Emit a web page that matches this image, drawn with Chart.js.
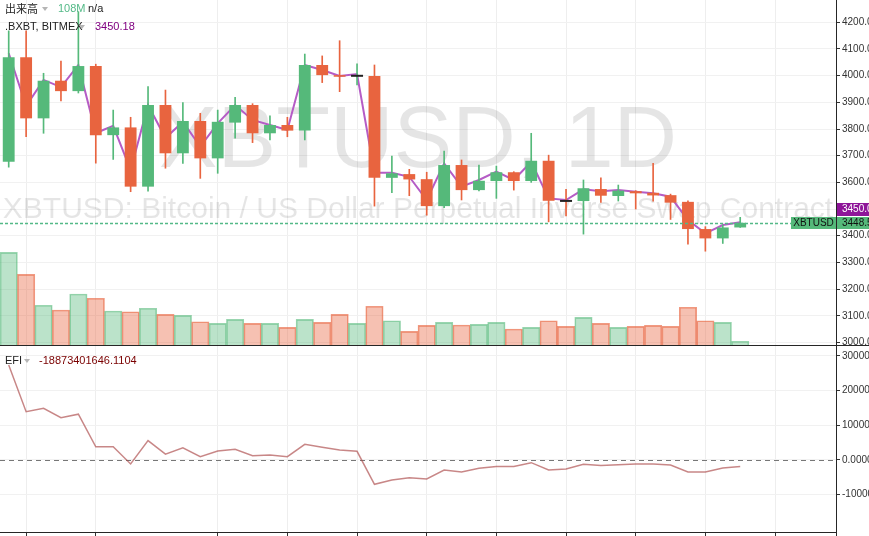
<!DOCTYPE html>
<html>
<head>
<meta charset="utf-8">
<script src="https://cdn.jsdelivr.net/npm/chart.js@4.4.0/dist/chart.umd.min.js"></script>
<style>
body{margin:0;background:#fff;width:869px;height:536px;overflow:hidden;position:relative;font-family:"Liberation Sans",Arial,sans-serif}
canvas{position:absolute;left:0}
#top{top:0}
#bot{top:346px}
.sep{position:absolute;background:#262626}
.lg{position:absolute;font-size:11px;line-height:13px;color:#222;white-space:nowrap}
.tri{position:absolute;width:0;height:0;border-left:3px solid transparent;border-right:3px solid transparent;border-top:4px solid #b5b5b5}
</style>
</head>
<body>
<canvas id="top" width="869" height="345"></canvas>
<canvas id="bot" width="869" height="190"></canvas>
<div class="sep" style="left:0;top:345px;width:869px;height:1px"></div>
<div class="sep" style="left:836px;top:0;width:1px;height:536px"></div>
<div class="sep" style="left:0;top:532px;width:837px;height:1px"></div>

<div class="lg" style="left:5px;top:2px;font-family:'Noto Sans CJK JP',sans-serif;font-size:11px">出来高</div>
<div class="tri" style="left:42px;top:7px"></div>
<div class="lg" style="left:58px;top:2px;color:#53b987">108M</div>
<div class="lg" style="left:88px;top:2px">n/a</div>
<div class="lg" style="left:5px;top:20px">.BXBT, BITMEX</div>
<div class="tri" style="left:79px;top:25px"></div>
<div class="lg" style="left:95px;top:20px;color:#800080">3450.18</div>
<div class="lg" style="left:5px;top:354px">EFI</div>
<div class="tri" style="left:24px;top:359px"></div>
<div class="lg" style="left:39px;top:354px;color:#7a0000">-18873401646.1104</div>

<script>
// daily candles XBTUSD (BitMEX), 20 Dec 2018 .. 31 Jan 2019, plus empty days on the right
var dates = ['12/20','12/21','12/22','12/23','12/24','12/25','12/26','12/27','12/28','12/29','12/30','12/31',
    '1/1','1/2','1/3','1/4','1/5','1/6','1/7','1/8','1/9','1/10','1/11','1/12','1/13','1/14','1/15','1/16',
    '1/17','1/18','1/19','1/20','1/21','1/22','1/23','1/24','1/25','1/26','1/27','1/28','1/29','1/30','1/31',
    '2/1','2/2','2/3','2/4','2/5'];
var gridDays = ['12/21','12/25','1/1','1/5','1/9','1/13','1/17','1/21','1/25','1/29','2/2'];

var open  = [3677,4069,3840,3981,3942,4036,3777,3806,3584,3890,3709,3830,3690,3824,3890,3784,3815,3794,4040,4002,3999,
             3999,3617,3631,3612,3511,3665,3571,3605,3638,3605,3681,3531,3530,3575,3549,3567,3561,3552,3527,3425,3390,3431];
var high  = [4168,4168,4009,4055,4240,4043,3871,3844,3959,3946,3899,3859,3871,3919,3895,3849,3844,4081,4074,4131,4044,
             4040,3699,3649,3638,3717,3684,3665,3661,3640,3784,3702,3574,3609,3617,3590,3569,3671,3556,3531,3434,3440,3469];
var low   = [3657,3771,3784,3905,3935,3672,3686,3565,3567,3653,3671,3615,3634,3766,3749,3759,3771,3759,3974,3940,3965,
             3511,3561,3550,3477,3505,3534,3568,3540,3571,3600,3452,3474,3406,3525,3530,3500,3530,3461,3368,3342,3371,3431];
var close = [4069,3840,3981,3942,4036,3777,3806,3584,3890,3709,3830,3690,3827,3890,3784,3815,3794,4040,4002,3996,3999.5,
             3617,3634,3611,3511,3665,3571,3606,3638,3605,3681,3531,3530.5,3578,3550,3569,3559,3551,3524,3425,3390,3431,3448.5];
// .BXBT index (compare line)
var bxbt  = [4084,3886,3984,3957,4040,3785,3812,3646,3890,3766,3827,3734,3821,3890,3834,3815,3796,4040,4021,3999,4006,
             3636,3636,3621,3534,3671,3584,3609,3640,3609,3677,3540,3534,3574,3567,3571,3565,3559,3546,3459,3409,3440,3450.18];
var bxbtAxisValue = 3450.0;
// volume, millions of contracts
var volume = [2687,2049,1151,1014,1478,1354,986,965,1064,890,861,675,629,745,629,629,513,745,658,890,629,
              1122,704,397,571,658,580,600,658,464,513,704,542,803,629,513,542,571,542,1093,704,658,108];
// Elder's force index
var efi = [274e9,139e9,149e9,122e9,132e9,38e9,38e9,-11.5e9,56e9,17e9,35e9,9.5e9,26e9,31e9,12.5e9,14.4e9,9.5e9,45e9,36.5e9,29e9,25e9,
           -70e9,-57.6e9,-51e9,-54.8e9,-29e9,-34.6e9,-24e9,-19e9,-19e9,-7.7e9,-29e9,-26e9,-12.5e9,-16e9,-13.5e9,-11.5e9,-11.5e9,-14.4e9,-34.6e9,-34.6e9,-23e9,-18873401646.1104];

var priceTicks = [3000,3100,3200,3300,3400,3500,3600,3700,3800,3900,4000,4100,4200];
var efiTicks = [-1e11, 0, 1e11, 2e11, 3e11];

var symbol = 'XBTUSD';
var interval = '1D';
var description = 'Bitcoin / US Dollar Perpetual Inverse Swap Contract';

var priceMin = 2990.4, priceMax = 4283.6;
var efiMin = -2.075e11, efiMax = 3.285e11;

var upColor = '#55b97a';
var downColor = '#e8643f';
var fontFamily = '"Liberation Sans", Arial, sans-serif';

var isUp = close.map(function (c, i) { return c >= open[i]; });
var candleColor = isUp.map(function (u) { return u ? upColor : downColor; });
var volFill = isUp.map(function (u) { return u ? 'rgba(85,185,122,0.4)' : 'rgba(232,100,63,0.4)'; });
var volBorder = isUp.map(function (u) { return u ? 'rgba(85,185,122,0.6)' : 'rgba(232,100,63,0.65)'; });
var bodies = open.map(function (o, i) { return [o, close[i]]; });
var wicks = low.map(function (l, i) { return [l, high[i]]; });
var doji = open.map(function (o, i) { return Math.abs(close[i] - o) < 1 ? close[i] : null; });

function gridCol(ctx) {
    return gridDays.indexOf(dates[ctx.tick.value]) >= 0 ? '#eeeeee' : 'rgba(0,0,0,0)';
}
function tickCol(ctx) {
    return gridDays.indexOf(dates[ctx.tick.value]) >= 0 ? '#333' : 'rgba(0,0,0,0)';
}
function useTicks(list) {
    return function (s) {
        s.ticks = list.map(function (v) { return {value: v}; });
    };
}
// fixed axis width, no extra room for the end labels
function fitRight(s) {
    s.width = 33;
    s.paddingTop = 0;
    s.paddingBottom = 0;
}

var watermark = {
    id: 'watermark',
    beforeDatasetsDraw: function (chart) {
        var ctx = chart.ctx, a = chart.chartArea;
        var cx = (a.left + a.right) / 2;
        ctx.save();
        ctx.beginPath();
        ctx.rect(a.left, a.top, a.width, a.height);
        ctx.clip();
        ctx.fillStyle = 'rgba(0,0,0,0.1)';
        ctx.textAlign = 'center';
        ctx.font = '88px ' + fontFamily;
        ctx.fillText(symbol + ', ' + interval, cx, 167);
        ctx.font = '30px ' + fontFamily;
        ctx.fillText(symbol + ': ' + description, cx, 218);
        ctx.restore();
    }
};

var lastPrice = {
    id: 'lastPrice',
    afterDatasetsDraw: function (chart) {
        var ctx = chart.ctx, a = chart.chartArea;
        var yc = Math.round(chart.scales.y.getPixelForValue(close[close.length - 1])) + 0.5;
        ctx.save();
        ctx.strokeStyle = '#53b987';
        ctx.lineWidth = 1.5;
        ctx.setLineDash([3, 2]);
        ctx.beginPath();
        ctx.moveTo(a.left, yc);
        ctx.lineTo(791, yc);
        ctx.stroke();
        ctx.restore();
    },
    afterDraw: function (chart) {
        var ctx = chart.ctx, a = chart.chartArea;
        var last = close[close.length - 1];
        var yc = Math.round(chart.scales.y.getPixelForValue(last));
        ctx.save();
        ctx.font = '10px ' + fontFamily;
        ctx.textBaseline = 'middle';
        // symbol tag
        ctx.fillStyle = '#55b97a';
        ctx.fillRect(791, yc - 6, a.right - 791, 12);
        ctx.fillRect(a.right + 1, yc - 6, 40, 12);
        ctx.fillStyle = '#111';
        ctx.textAlign = 'center';
        ctx.fillText(symbol, (791 + a.right) / 2, yc);
        ctx.textAlign = 'left';
        ctx.fillText(last.toFixed(2), a.right + 6, yc);
        // compare symbol tag, pushed above
        ctx.fillStyle = '#8e1599';
        ctx.fillRect(a.right + 1, yc - 20, 40, 13);
        ctx.fillStyle = '#fff';
        ctx.fillText(bxbtAxisValue.toFixed(2), a.right + 6, yc - 13.5);
        ctx.restore();
    }
};

var zeroLine = {
    id: 'zeroLine',
    beforeDatasetsDraw: function (chart) {
        var ctx = chart.ctx, a = chart.chartArea;
        var y0 = Math.round(chart.scales.y.getPixelForValue(0)) + 0.5;
        ctx.save();
        ctx.strokeStyle = '#777';
        ctx.lineWidth = 1;
        ctx.setLineDash([5, 4]);
        ctx.beginPath();
        ctx.moveTo(a.left, y0);
        ctx.lineTo(a.right, y0);
        ctx.stroke();
        ctx.restore();
    }
};

new Chart(document.getElementById('top'), {
    type: 'bar',
    data: {
        labels: dates,
        datasets: [{
                label: 'Volume',
                data: volume,
                yAxisID: 'yv',
                backgroundColor: volFill,
                borderColor: volBorder,
                borderWidth: 1,
                barPercentage: 1,
                categoryPercentage: 1,
                grouped: false,
                order: 6
            }, {
                type: 'line',
                label: '.BXBT',
                data: bxbt,
                yAxisID: 'y',
                borderColor: '#b55cc6',
                borderWidth: 2,
                pointRadius: 0,
                tension: 0,
                order: 5
            }, {
                label: 'Wick',
                data: wicks,
                yAxisID: 'y',
                backgroundColor: candleColor,
                barThickness: 1,
                grouped: false,
                order: 4
            }, {
                label: 'Body',
                data: bodies,
                yAxisID: 'y',
                backgroundColor: candleColor,
                barPercentage: 0.68,
                categoryPercentage: 1,
                grouped: false,
                order: 3
            }, {
                type: 'line',
                label: 'Doji',
                data: doji,
                yAxisID: 'y',
                showLine: false,
                pointStyle: 'line',
                pointRadius: 6,
                pointBorderWidth: 2,
                pointBorderColor: '#222',
                order: 2
            }]
    },
    options: {
        responsive: false,
        animation: false,
        devicePixelRatio: 1,
        layout: {padding: 0, autoPadding: false},
        plugins: {legend: {display: false}, tooltip: {enabled: false}},
        scales: {
            x: {
                offset: true,
                grid: {offset: false, color: gridCol, drawTicks: false, tickLength: 0},
                ticks: {display: false, autoSkip: false},
                border: {display: false}
            },
            y: {
                position: 'right',
                min: priceMin,
                max: priceMax,
                afterFit: fitRight,
                afterBuildTicks: useTicks(priceTicks),
                grid: {color: '#f1f1f1', tickColor: '#333', tickLength: 4},
                border: {display: false},
                ticks: {
                    padding: 2, color: '#333',
                    font: {size: 10, family: fontFamily},
                    callback: function (v) { return v.toFixed(2); }
                }
            },
            yv: {
                display: false,
                position: 'right',
                min: 0,
                max: 10000,
                ticks: {display: false}
            }
        }
    },
    plugins: [watermark, lastPrice]
});

new Chart(document.getElementById('bot'), {
    type: 'line',
    data: {
        labels: dates,
        datasets: [{
                label: 'EFI',
                data: efi,
                borderColor: 'rgba(170,70,70,0.65)',
                borderWidth: 1.5,
                pointRadius: 0,
                tension: 0
            }]
    },
    options: {
        responsive: false,
        animation: false,
        devicePixelRatio: 1,
        layout: {padding: 0, autoPadding: false},
        plugins: {legend: {display: false}, tooltip: {enabled: false}},
        scales: {
            x: {
                offset: true,
                grid: {offset: false, color: gridCol, tickColor: tickCol, tickLength: 4},
                ticks: {display: false, autoSkip: false},
                border: {display: false}
            },
            y: {
                position: 'right',
                min: efiMin,
                max: efiMax,
                afterFit: fitRight,
                afterBuildTicks: useTicks(efiTicks),
                grid: {color: '#f1f1f1', tickColor: '#333', tickLength: 4},
                border: {display: false},
                ticks: {
                    padding: 2, color: '#333',
                    font: {size: 10, family: fontFamily},
                    callback: function (v) { return v.toFixed(4); }
                }
            }
        }
    },
    plugins: [zeroLine]
});
</script>
</body>
</html>
